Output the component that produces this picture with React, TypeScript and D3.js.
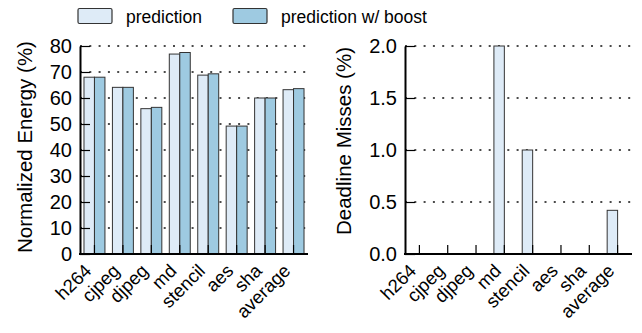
import { useEffect, useRef } from "react";
import * as d3 from "d3";

const categories = ["h264", "cjpeg", "djpeg", "md", "stencil", "aes", "sha", "average"];
const seriesNames = ["prediction", "prediction w/ boost"];
const energyPred = [68, 64.1, 55.9, 76.9, 68.8, 49.2, 60, 63.2];
const energyBoost = [68, 64.1, 56.4, 77.5, 69.3, 49.2, 60, 63.6];
const missPred = [0, 0, 0, 2.0, 1.0, 0, 0, 0.42];
const missBoost = [0, 0, 0, 0, 0, 0, 0, 0];
const energyTicks = [0, 10, 20, 30, 40, 50, 60, 70, 80];
const missTicks = [0, 0.5, 1.0, 1.5, 2.0];

const colors = ["#deebf7", "#9ecae1"];
const font = "'Liberation Sans', Arial, Helvetica, sans-serif";

function drawPanel(g, opts) {
    const { id, x0, x1, yTop, yBot, max, ticks, fmt, series, title, titleX, titleY } = opts;

    const xScale = d3.scaleBand().domain(categories).range([x0, x1])
        .paddingInner(0.263).paddingOuter(0.14);
    const sub = d3.scaleBand().domain(seriesNames).range([0, xScale.bandwidth()]);
    const yScale = d3.scaleLinear().domain([0, max]).range([yBot, yTop]);

    // gridlines (dotted)
    g.append("g").selectAll("line").data(ticks.filter((t) => t > 0)).enter()
        .append("line")
        .attr("x1", x0).attr("x2", x1)
        .attr("y1", (d) => yScale(d)).attr("y2", (d) => yScale(d))
        .attr("stroke", "#111").attr("stroke-width", 1.4)
        .attr("stroke-dasharray", "2,7.3");

    // bars
    series.forEach((vals, si) => {
        g.append("g").selectAll("rect").data(vals).enter()
            .append("rect")
            .attr("x", (d, i) => xScale(categories[i]) + sub(seriesNames[si]))
            .attr("y", (d) => yScale(d))
            .attr("width", sub.bandwidth())
            .attr("height", (d) => yBot - yScale(d))
            .attr("fill", colors[si])
            .attr("stroke", "#333")
            .attr("stroke-width", 1);
    });

    // y axis
    const yAxis = d3.axisLeft(yScale).tickValues(ticks).tickFormat(fmt)
        .tickSizeInner(-10).tickSizeOuter(0).tickPadding(8);
    const ya = g.append("g").attr("transform", `translate(${x0},0)`).call(yAxis);
    ya.select(".domain").attr("stroke", "#000").attr("stroke-width", 2);
    ya.selectAll(".tick line").attr("stroke", "#000").attr("stroke-width", 1.2);
    ya.selectAll("text").attr("font-family", font).attr("font-size", 20).attr("fill", "#000");

    // x axis (labels laid along 45deg paths)
    const xAxis = d3.axisBottom(xScale).tickSizeInner(-9).tickSizeOuter(0).tickFormat(() => "");
    const xa = g.append("g").attr("transform", `translate(0,${yBot})`).call(xAxis);
    xa.select(".domain").attr("stroke", "#000").attr("stroke-width", 2)
        .attr("d", `M${x0 - 1},0H${x1}`);
    xa.selectAll(".tick line").attr("stroke", "#000").attr("stroke-width", 1.2);

    const defs = g.append("defs");
    categories.forEach((c, i) => {
        const ex = xScale(c) + xScale.bandwidth() / 2 - 2;
        const ey = yBot + 18;
        defs.append("path")
            .attr("id", `${id}-lab-${i}`)
            .attr("d", `M${ex - 120},${ey + 120}L${ex},${ey}`);
    });
    g.append("g").selectAll("text").data(categories).enter()
        .append("text")
        .attr("font-family", font).attr("font-size", 18.5)
        .append("textPath")
        .attr("href", (d, i) => `#${id}-lab-${i}`)
        .attr("startOffset", "100%")
        .attr("text-anchor", "end")
        .text((d) => d);

    // axis title
    g.append("text")
        .attr("transform", `translate(${titleX},${titleY}) rotate(-90)`)
        .attr("text-anchor", "middle")
        .attr("font-family", font).attr("font-size", 20.5)
        .text(title);
}

export default function App() {
    const svgRef = useRef(null);

    useEffect(() => {
        const svg = d3.select(svgRef.current);
        svg.selectAll("*").remove();

        // legend
        const legendX = [78, 233];
        seriesNames.forEach((name, i) => {
            svg.append("rect")
                .attr("x", legendX[i]).attr("y", 8.5)
                .attr("width", 34).attr("height", 15)
                .attr("rx", 1.5)
                .attr("fill", colors[i]).attr("stroke", "#333").attr("stroke-width", 1.2);
            svg.append("text")
                .attr("x", legendX[i] + 48).attr("y", 22.5)
                .attr("font-family", font).attr("font-size", 17.5)
                .text(name);
        });

        drawPanel(svg.append("g"), {
            id: "energy", x0: 80, x1: 308, yTop: 46, yBot: 254, max: 80,
            ticks: energyTicks, fmt: d3.format("d"),
            series: [energyPred, energyBoost],
            title: "Normalized Energy (%)", titleX: 32, titleY: 147,
        });
        drawPanel(svg.append("g"), {
            id: "miss", x0: 405, x1: 632, yTop: 46, yBot: 254, max: 2,
            ticks: missTicks, fmt: d3.format(".1f"),
            series: [missPred, missBoost],
            title: "Deadline Misses (%)", titleX: 351, titleY: 141,
        });
    }, []);

    return (
        <svg ref={svgRef} width={642} height={333}
            style={{ position: "absolute", left: 0, top: 0, background: "#fff" }} />
    );
}
